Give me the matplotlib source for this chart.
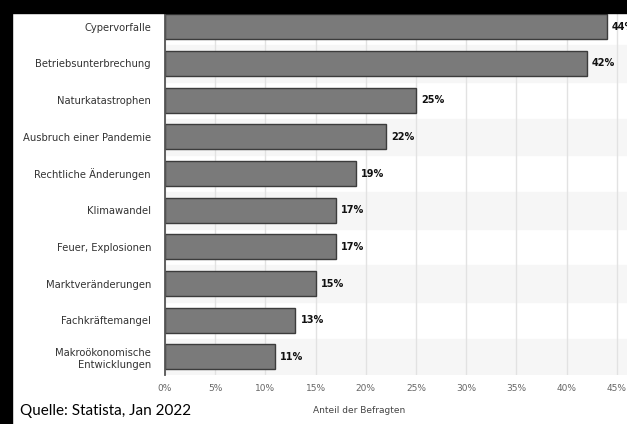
import matplotlib.pyplot as plt
import matplotlib.patches as mpatches
import numpy as np

categories = [
    "Cypervorfalle",
    "Betriebsunterbrechung",
    "Naturkatastrophen",
    "Ausbruch einer Pandemie",
    "Rechtliche Änderungen",
    "Klimawandel",
    "Feuer, Explosionen",
    "Marktveränderungen",
    "Fachkräftemangel",
    "Makroökonomische\nEntwicklungen",
]
values = [44, 42, 25, 22, 19, 17, 17, 15, 13, 11]
x_ticks = [0, 5, 10, 15, 20, 25, 30, 35, 40, 45]
x_label = "Anteil der Befragten"
source = "Quelle: Statista, Jan 2022"

fig = plt.figure(figsize=(6.27, 4.24), dpi=100)
fig.patch.set_facecolor("white")
ax = fig.add_axes([0.263, 0.115, 0.737, 0.865])

y = np.arange(len(categories))

# alternating row bands
for i in y:
    if i % 2 == 1:
        ax.axhspan(i - 0.5, i + 0.5, color="#f6f6f6", zorder=0)

ax.barh(y, values, height=0.68, color="#7a7a7a", edgecolor="#3c3c3c",
        linewidth=1.0, zorder=3)

# value labels (the 44% one runs off the right edge, as in the original)
for yi, v in zip(y, values):
    ax.text(v + 0.5, yi, f"{v}%", va="center", ha="left", fontsize=7,
            fontweight="bold", color="#111111", clip_on=False)

ax.set_xlim(0, 46)
ax.set_ylim(len(categories) - 0.5, -0.5)
ax.set_xticks(x_ticks)
ax.set_xticklabels([f"{t}%" for t in x_ticks], fontsize=6.5, color="#666666")
ax.set_yticks(y)
ax.set_yticklabels(categories, fontsize=7.2, color="#333333", linespacing=1.3)
ax.tick_params(axis="both", length=0)
ax.tick_params(axis="y", pad=10)
ax.tick_params(axis="x", pad=6)
ax.xaxis.grid(True, color="#e2e2e2", linewidth=1.0, zorder=1)
ax.set_axisbelow(True)

for s in ["top", "right", "bottom"]:
    ax.spines[s].set_visible(False)
ax.spines["left"].set_color("#555555")
ax.spines["left"].set_linewidth(1.3)
ax.spines["left"].set_zorder(4)

ax.set_xlabel(x_label, fontsize=6.5, color="#444444", labelpad=6)
ax.xaxis.set_label_coords(0.42, -0.085)

# black frame strips at top and left
fig.patches.append(mpatches.Rectangle((0, 1 - 13 / 424), 1, 13 / 424,
                                      transform=fig.transFigure, color="black", zorder=10))
fig.patches.append(mpatches.Rectangle((0, 0), 12 / 627, 1,
                                      transform=fig.transFigure, color="black", zorder=10))

fig.text(20 / 627, 9 / 424, source, fontsize=11, family=["Lato", "DejaVu Sans"],
         color="black", ha="left", va="baseline")

fig.savefig("out.png", dpi=100)
